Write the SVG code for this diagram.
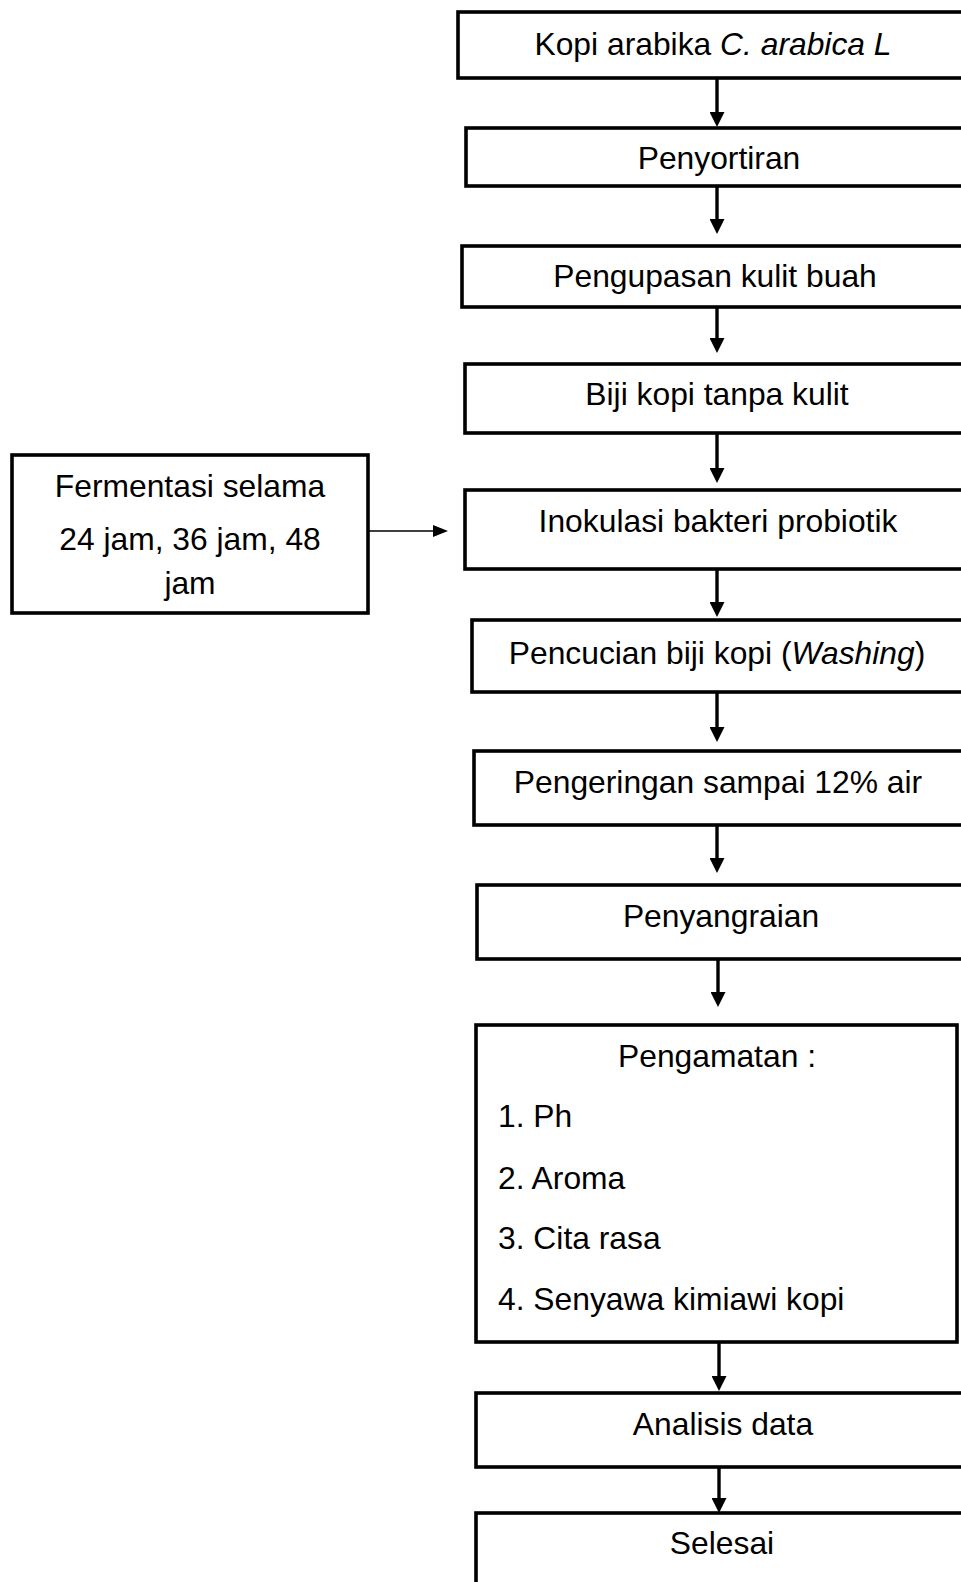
<svg xmlns="http://www.w3.org/2000/svg" width="961" height="1582" viewBox="0 0 961 1582">
<defs>
<style>
.box{fill:#fff;stroke:#000;stroke-width:3.6}
.t{font-family:"Liberation Sans",Arial,sans-serif;font-size:31.8px;fill:#000}
.c{text-anchor:middle}
.i{font-style:italic}
.conn{stroke:#000;stroke-width:3.4;fill:none}
.thin{stroke:#000;stroke-width:1.4;fill:none}
</style>
<marker id="ah" markerUnits="userSpaceOnUse" markerWidth="15" markerHeight="15" viewBox="0 0 15 15" refX="0" refY="7.5" orient="auto">
<path d="M0,0 L15,7.5 L0,15 z" fill="#000"/>
</marker>
<marker id="ahs" markerUnits="userSpaceOnUse" markerWidth="15" markerHeight="12" viewBox="0 0 15 12" refX="0" refY="6" orient="auto">
<path d="M0,0 L15,6 L0,12 z" fill="#000"/>
</marker>
</defs>
<rect width="961" height="1582" fill="#fff"/>
<g id="connectors">
<line class="conn" x1="717" y1="78" x2="717" y2="112" marker-end="url(#ah)"/>
<line class="conn" x1="717" y1="186" x2="717" y2="219" marker-end="url(#ah)"/>
<line class="conn" x1="717" y1="307" x2="717" y2="338" marker-end="url(#ah)"/>
<line class="conn" x1="717" y1="433" x2="717" y2="468" marker-end="url(#ah)"/>
<line class="conn" x1="717" y1="569" x2="717" y2="602" marker-end="url(#ah)"/>
<line class="conn" x1="717" y1="692" x2="717" y2="727" marker-end="url(#ah)"/>
<line class="conn" x1="717" y1="825" x2="717" y2="858" marker-end="url(#ah)"/>
<line class="conn" x1="718" y1="959" x2="718" y2="992" marker-end="url(#ah)"/>
<line class="conn" x1="719" y1="1342" x2="719" y2="1376" marker-end="url(#ah)"/>
<line class="conn" x1="719" y1="1467" x2="719" y2="1498" marker-end="url(#ah)"/>
<line class="thin" x1="368" y1="531" x2="433" y2="531" marker-end="url(#ahs)"/>
</g>
<g id="n1"><rect class="box" x="458" y="12" width="510" height="66"/><text class="t c" x="713" y="55">Kopi arabika <tspan class="i">C. arabica L</tspan></text></g>
<g id="n2"><rect class="box" x="466" y="128" width="502" height="58"/><text class="t c" x="719" y="169">Penyortiran</text></g>
<g id="n3"><rect class="box" x="462" y="246" width="506" height="61"/><text class="t c" x="715" y="287">Pengupasan kulit buah</text></g>
<g id="n4"><rect class="box" x="465" y="364" width="503" height="69"/><text class="t c" x="717" y="405">Biji kopi tanpa kulit</text></g>
<g id="n5"><rect class="box" x="465" y="490" width="503" height="79"/><text class="t c" x="718" y="532">Inokulasi bakteri probiotik</text></g>
<g id="n6"><rect class="box" x="472" y="620" width="496" height="72"/><text class="t c" x="717" y="664">Pencucian biji kopi (<tspan class="i">Washing</tspan>)</text></g>
<g id="n7"><rect class="box" x="474" y="751" width="494" height="74"/><text class="t c" x="718" y="793">Pengeringan sampai 12% air</text></g>
<g id="n8"><rect class="box" x="477" y="885" width="491" height="74"/><text class="t c" x="721" y="927">Penyangraian</text></g>
<g id="n9"><rect class="box" x="476" y="1025" width="481" height="317"/>
<text class="t c" x="717" y="1067">Pengamatan :</text>
<text class="t" x="498" y="1127">1. Ph</text>
<text class="t" x="498" y="1189">2. Aroma</text>
<text class="t" x="498" y="1249">3. Cita rasa</text>
<text class="t" x="498" y="1310">4. Senyawa kimiawi kopi</text>
</g>
<g id="n10"><rect class="box" x="476" y="1393" width="492" height="74"/><text class="t c" x="723" y="1435">Analisis data</text></g>
<g id="n11"><rect class="box" x="476" y="1513" width="492" height="90"/><text class="t c" x="722" y="1554">Selesai</text></g>
<g id="n0"><rect class="box" x="12" y="455" width="356" height="158"/>
<text class="t c" x="190" y="497">Fermentasi selama</text>
<text class="t c" x="190" y="550">24 jam, 36 jam, 48</text>
<text class="t c" x="190" y="594">jam</text>
</g>
</svg>
